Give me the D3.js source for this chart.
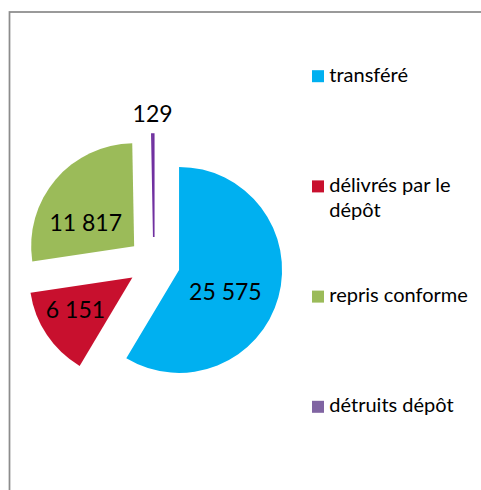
<!DOCTYPE html>
<html>
<head>
<meta charset="utf-8">
<script src="https://cdn.jsdelivr.net/npm/d3@7"></script>
<style>
  html, body { margin: 0; padding: 0; background: #fff; }
  svg { display: block; }
  text { font-family: Lato, "Open Sans", sans-serif; fill: #000; }
</style>
</head>
<body>
<svg id="chart" width="481" height="490"></svg>
<script>
// ---- data ----
const categories = ["transféré", "délivrés par le dépôt", "repris conforme", "détruits dépôt"];
const legendLines = [["transféré"], ["délivrés par le", "dépôt"], ["repris conforme"], ["détruits dépôt"]];
const values = [25575, 6151, 11817, 129];
const valueLabels = ["25 575", "6 151", "11 817", "129"];
const colors = ["#00B0F0", "#C8102E", "#9BBB59", "#8064A2"];

// ---- layout ----
const W = 481, H = 490;
const svg = d3.select("#chart");

// chart frame (extends beyond the visible area on right/bottom)
svg.append("rect")
  .attr("x", 9.5).attr("y", 12)
  .attr("width", 600).attr("height", 600)
  .attr("fill", "none").attr("stroke", "#8c8c8c").attr("stroke-width", 1.75);

const cx = 154, cy = 263, R = 103, explode = 26;

const pie = d3.pie().sort(null).value(d => d).startAngle(0).endAngle(2 * Math.PI);
const arcs = pie(values);
const arc = d3.arc().innerRadius(0).outerRadius(R);

const g = svg.append("g").attr("transform", `translate(${cx},${cy})`);

function polar(angle, r) { return [Math.sin(angle) * r, -Math.cos(angle) * r]; }

const slices = g.selectAll("g.slice").data(arcs).enter().append("g")
  .attr("class", "slice")
  .attr("transform", d => {
    const mid = (d.startAngle + d.endAngle) / 2;
    const [dx, dy] = polar(mid, explode);
    return `translate(${dx},${dy})`;
  });

slices.append("path")
  .attr("d", arc)
  .attr("fill", (d, i) => colors[i])
  .attr("stroke", (d, i) => i === 3 ? "#7030A0" : "none")
  .attr("stroke-width", (d, i) => i === 3 ? 1.6 : 0);

// label placement (angle offset from slice bisector in degrees, distance as fraction of radius)
const labelPlacement = [[8, 0.49], [6, 0.625], [-12.7, 0.53], [0, 1.215]];
slices.append("text")
  .attr("text-anchor", "middle")
  .attr("dominant-baseline", "central")
  .attr("font-size", 23)
  .attr("x", (d, i) => {
    const mid = (d.startAngle + d.endAngle) / 2 + labelPlacement[i][0] * Math.PI / 180;
    return polar(mid, R * labelPlacement[i][1])[0];
  })
  .attr("y", (d, i) => {
    const mid = (d.startAngle + d.endAngle) / 2 + labelPlacement[i][0] * Math.PI / 180;
    return polar(mid, R * labelPlacement[i][1])[1] + 1;
  })
  .text((d, i) => valueLabels[i]);

// ---- legend ----
const legend = svg.append("g").attr("transform", "translate(312,0)");
const legendY = d3.scalePoint().domain(categories).range([81.7, 412.3]);
const items = legend.selectAll("g.item").data(categories).enter().append("g")
  .attr("class", "item")
  .attr("transform", d => `translate(0,${legendY(d)})`);
items.append("rect")
  .attr("x", 0).attr("y", -11.5).attr("width", 12).attr("height", 12)
  .attr("fill", (d, i) => colors[i]);
items.append("text")
  .attr("x", 17.3).attr("y", 0)
  .attr("font-size", 20)
  .selectAll("tspan").data((d, i) => legendLines[i]).enter().append("tspan")
  .attr("x", 17.3).attr("dy", (t, j) => j === 0 ? 0 : 25)
  .text(t => t);
</script>
</body>
</html>
